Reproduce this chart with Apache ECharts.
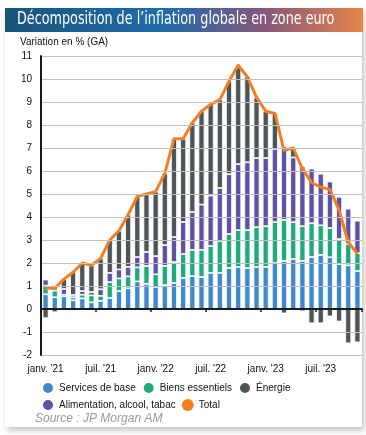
<!DOCTYPE html>
<html>
<head>
<meta charset="utf-8">
<script src="https://cdn.jsdelivr.net/npm/echarts@6/dist/echarts.min.js"></script>
<style>
html,body{margin:0;padding:0;background:#fff;}
#c{width:366px;height:435px;}
</style>
</head>
<body>
<div id="c"></div>
<script>
const categories = [
 "janv. '21","févr. '21","mars '21","avr. '21","mai '21","juin '21","juil. '21","août '21","sept. '21","oct. '21","nov. '21","déc. '21",
 "janv. '22","févr. '22","mars '22","avr. '22","mai '22","juin '22","juil. '22","août '22","sept. '22","oct. '22","nov. '22","déc. '22",
 "janv. '23","févr. '23","mars '23","avr. '23","mai '23","juin '23","juil. '23","août '23","sept. '23","oct. '23","nov. '23"
];
const services = [0.64,0.51,0.55,0.38,0.46,0.29,0.35,0.48,0.78,0.90,1.20,1.09,0.96,1.04,1.13,1.35,1.43,1.39,1.57,1.57,1.78,1.83,1.78,1.83,1.83,2.00,2.09,2.17,2.09,2.26,2.35,2.25,1.95,1.90,1.65];
const biens = [0.37,0.29,0.07,0.13,0.16,0.30,0.22,0.69,0.55,0.52,0.61,0.78,0.55,0.83,0.91,1.04,1.14,1.18,1.17,1.39,1.48,1.60,1.65,1.73,1.77,1.78,1.78,1.61,1.51,1.47,1.29,1.27,1.09,0.92,0.78];
const alimentation = [0.27,0.24,0.25,0.10,0.16,0.15,0.29,0.40,0.39,0.41,0.45,0.61,0.79,0.91,1.09,1.39,1.65,1.97,2.19,2.30,2.60,2.87,2.95,3.00,2.96,3.18,3.20,2.81,2.61,2.37,2.24,2.02,1.84,1.54,1.41];
const energie = [-0.40,-0.14,0.43,0.99,1.22,1.16,1.34,1.43,1.68,2.27,2.64,2.52,2.80,3.12,4.27,3.62,3.88,4.06,3.97,3.84,4.04,4.30,3.72,2.64,2.04,1.54,-0.19,0.41,-0.10,-0.62,-0.62,-0.32,-0.54,-1.49,-1.45];
const total = [0.9,0.9,1.3,1.6,2.0,1.9,2.2,3.0,3.4,4.1,4.9,5.0,5.1,5.9,7.4,7.4,8.1,8.6,8.9,9.1,9.9,10.6,10.1,9.2,8.6,8.5,6.9,7.0,6.1,5.5,5.3,5.2,4.3,2.9,2.4];
const yTicks = {min:-2, max:11, interval:1};

const chart = echarts.init(document.getElementById('c'), null, {renderer:'canvas'});
const barCommon = {type:'bar', stack:'a', barWidth:6, xAxisIndex:0,
  itemStyle:{borderColor:'#ffffff', borderWidth:0.8}};
const F = 'Arial, "Liberation Sans", sans-serif';
chart.setOption({
  animation:false,
  backgroundColor:'#ffffff',
  graphic:[
    {type:'rect', z:-10, shape:{x:5,y:8,width:357,height:419},
     style:{fill:'#ffffff', shadowBlur:6, shadowColor:'rgba(0,0,0,0.25)', shadowOffsetX:2, shadowOffsetY:3}},
    {type:'rect', z:1, shape:{x:5,y:8,width:358,height:24},
     style:{fill:new echarts.graphic.LinearGradient(0,0,1,0,[
       {offset:0,color:'#1a5579'},{offset:0.45,color:'#1f6bab'},{offset:0.72,color:'#85577c'},{offset:1,color:'#e6834a'}])}},
    {type:'text', z:2, x:17, y:11, scaleX:0.835,
     style:{text:"Décomposition de l’inflation globale en zone euro", fill:'#ffffff',
       font:'17px "Liberation Sans Narrow", "DejaVu Sans Condensed", sans-serif'}},
    {type:'text', z:2, left:20, top:37,
     style:{text:'Variation en % (GA)', fill:'#111', font:'10px '+F}},
    {type:'text', z:2, left:35, top:413,
     style:{text:'Source : JP Morgan AM', fill:'#9a9a9a', font:'italic 12px '+F}}
  ],
  grid:{left:41, right:4, top:56, bottom:80, containLabel:false},
  legend:[
    {left:36, top:376, icon:'circle', itemWidth:12, itemHeight:12, itemGap:6,
     textStyle:{fontSize:10, color:'#111', fontFamily:F},
     data:['Services de base','Biens essentiels','Énergie']},
    {left:36, top:393, icon:'circle', itemWidth:12, itemHeight:12, itemGap:6,
     textStyle:{fontSize:10, color:'#111', fontFamily:F},
     data:['Alimentation, alcool, tabac','Total']}
  ],
  xAxis:[
    {type:'category', data:categories, position:'bottom', z:10,
     axisLine:{onZero:true, lineStyle:{color:'#1a1a1a', width:2}},
     axisTick:{show:true, interval:5, length:3, lineStyle:{color:'#1a1a1a', width:1.5}},
     axisLabel:{show:false}, splitLine:{show:false}},
    {type:'category', data:categories, position:'bottom',
     axisLine:{show:false, onZero:false}, axisTick:{show:false},
     axisLabel:{show:true, interval:5, margin:9, fontSize:10, color:'#111', fontFamily:F},
     splitLine:{show:false}}
  ],
  yAxis:{type:'value', min:yTicks.min, max:yTicks.max, interval:yTicks.interval, z:10,
    axisLine:{show:true, lineStyle:{color:'#1a1a1a', width:2}},
    axisTick:{show:false},
    axisLabel:{fontSize:10, color:'#111', margin:9, fontFamily:F},
    splitLine:{show:true, lineStyle:{color:'#c0c0c0', width:1}}},
  series:[
    Object.assign({}, barCommon, {name:'Services de base', data:services, itemStyle:Object.assign({}, barCommon.itemStyle, {color:'#3f88cb'})}),
    Object.assign({}, barCommon, {name:'Biens essentiels', data:biens, itemStyle:Object.assign({}, barCommon.itemStyle, {color:'#1eaa7b'})}),
    Object.assign({}, barCommon, {name:'Alimentation, alcool, tabac', data:alimentation, itemStyle:Object.assign({}, barCommon.itemStyle, {color:'#5e52a2'})}),
    Object.assign({}, barCommon, {name:'Énergie', data:energie, itemStyle:Object.assign({}, barCommon.itemStyle, {color:'#4d5558'})}),
    {type:'line', name:'Total', data:total, xAxisIndex:0, symbol:'none', z:5,
     lineStyle:{color:'#f47f22', width:3, join:'round'}, itemStyle:{color:'#f47f22'}}
  ]
});
</script>
</body>
</html>
